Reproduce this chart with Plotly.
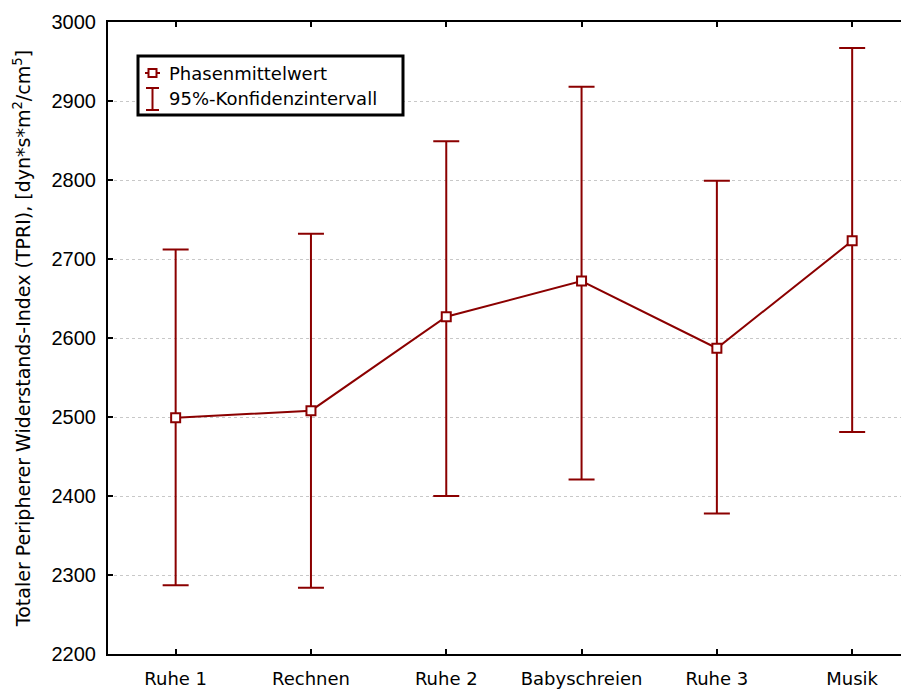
import plotly.graph_objects as go

categories = ["Ruhe 1", "Rechnen", "Ruhe 2", "Babyschreien", "Ruhe 3", "Musik"]
mean_values = [2499, 2508, 2627, 2672, 2587, 2723]
ci_upper = [2712, 2732, 2849, 2918, 2799, 2967]
ci_lower = [2287, 2284, 2400, 2421, 2378, 2481]

y_ticks = [2200, 2300, 2400, 2500, 2600, 2700, 2800, 2900, 3000]

RED = "#8B0000"
ARIAL = "Liberation Sans, Arial, sans-serif"
WIDE = "DejaVu Sans, Verdana, sans-serif"

err_plus = [u - m for u, m in zip(ci_upper, mean_values)]
err_minus = [m - l for m, l in zip(mean_values, ci_lower)]

fig = go.Figure()
fig.add_trace(go.Scatter(
    x=categories, y=mean_values, mode="lines+markers",
    line=dict(color=RED, width=2),
    marker=dict(symbol="square", size=9, color="white", line=dict(color=RED, width=2)),
    error_y=dict(type="data", symmetric=False, array=err_plus, arrayminus=err_minus,
                 color=RED, thickness=2, width=13),
    showlegend=False,
))

# page has an 8px body margin; figure is sized so the plot area lands at page x 108..909, y 22..654
fig.update_layout(
    width=901, height=681,
    margin=dict(l=100, r=0, t=14, b=35),
    paper_bgcolor="white", plot_bgcolor="white",
    font=dict(family=ARIAL, size=16, color="black"),
    xaxis=dict(
        type="category", range=[-0.5, 5.42],
        showline=True, linecolor="black", linewidth=2, mirror="ticks",
        ticks="inside", ticklen=5, tickcolor="black", tickwidth=2,
        showgrid=False, tickfont=dict(family=WIDE, size=18),
        ticklabelstandoff=7,
    ),
    yaxis=dict(
        range=[2200, 3000], tickvals=y_ticks,
        showline=True, linecolor="black", linewidth=2,
        ticks="inside", ticklen=5, tickcolor="black", tickwidth=2,
        showgrid=True, gridcolor="#c8c8c8", griddash="dot", gridwidth=1,
        zeroline=False, tickfont=dict(family=ARIAL, size=20),
        ticklabelstandoff=6,
        title=dict(text="Totaler Peripherer Widerstands-Index (TPRI), [dyn*s*m<sup>2</sup>/cm<sup>5</sup>]",
                   font=dict(family=WIDE, size=19), standoff=16),
    ),
)

# Manual legend
def px_x(px):
    return (px - 108) / 801.0

def px_y(py):
    return (654 - py) / 632.0

fig.add_shape(type="rect", xref="paper", yref="paper", x0=px_x(138), x1=px_x(403),
              y0=px_y(115), y1=px_y(56),
              line=dict(color="black", width=3), fillcolor="white", layer="above")

# Entry 1 icon: line with square
fig.add_shape(type="line", xref="paper", yref="paper", x0=px_x(145), x1=px_x(160),
              y0=px_y(73), y1=px_y(73), line=dict(color=RED, width=2), layer="above")
fig.add_shape(type="rect", xref="paper", yref="paper", x0=px_x(148.5), x1=px_x(156.5),
              y0=px_y(77), y1=px_y(69), line=dict(color=RED, width=2), fillcolor="white", layer="above")
# Entry 2 icon: I-beam
fig.add_shape(type="line", xref="paper", yref="paper", x0=px_x(152.5), x1=px_x(152.5),
              y0=px_y(88), y1=px_y(110), line=dict(color=RED, width=2), layer="above")
fig.add_shape(type="line", xref="paper", yref="paper", x0=px_x(146), x1=px_x(159),
              y0=px_y(88), y1=px_y(88), line=dict(color=RED, width=2), layer="above")
fig.add_shape(type="line", xref="paper", yref="paper", x0=px_x(146), x1=px_x(159),
              y0=px_y(110), y1=px_y(110), line=dict(color=RED, width=2), layer="above")

fig.add_annotation(xref="paper", yref="paper", x=px_x(167), y=px_y(73), text="Phasenmittelwert",
                   showarrow=False, xanchor="left", yanchor="middle", font=dict(family=WIDE, size=18))
fig.add_annotation(xref="paper", yref="paper", x=px_x(167), y=px_y(99), text="95%-Konfidenzintervall",
                   showarrow=False, xanchor="left", yanchor="middle", font=dict(family=WIDE, size=18))

fig.write_html("out.html")
